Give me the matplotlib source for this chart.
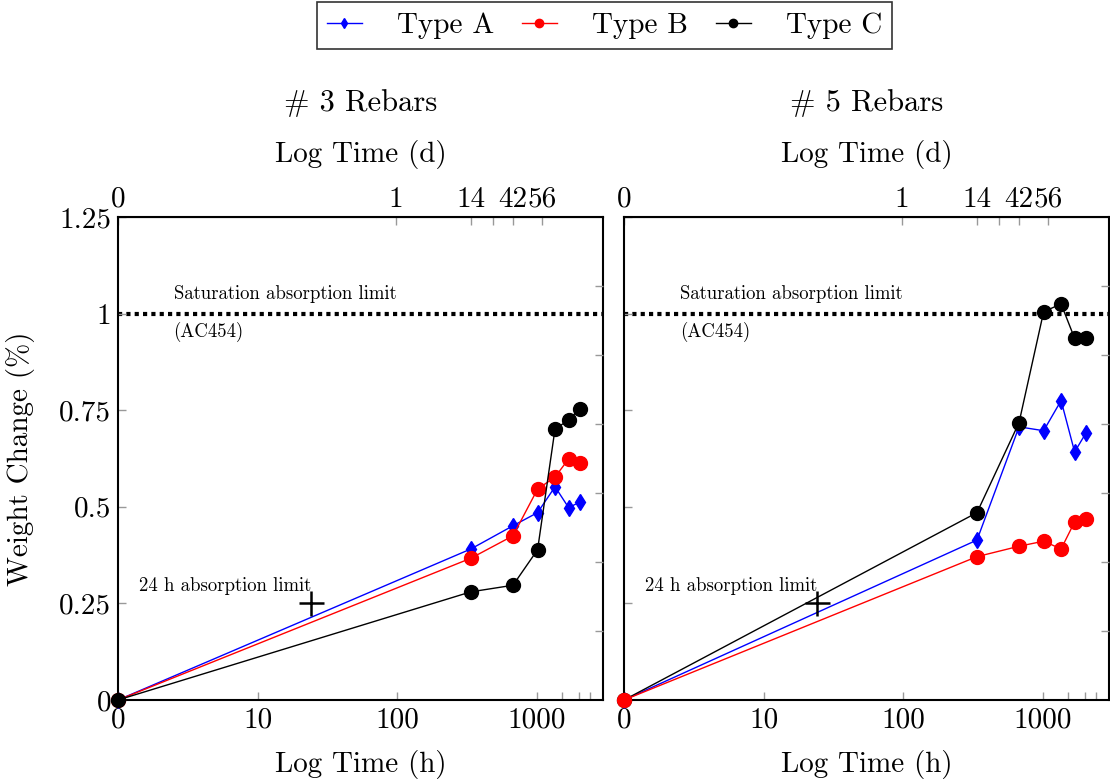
import numpy as np
import matplotlib
matplotlib.use("Agg")
import matplotlib.pyplot as plt

plt.rcParams['font.family'] = ['cmr10', 'DejaVu Serif']
plt.rcParams['mathtext.fontset'] = 'cm'
plt.rcParams['axes.unicode_minus'] = False

# time in hours (first point plotted at 1 h, shown as "0")
hours = [1, 336, 672, 1008, 1344, 1680, 2016]

rebar3_a = [0, 0.391, 0.451, 0.485, 0.552, 0.498, 0.512]
rebar3_b = [0, 0.367, 0.425, 0.546, 0.577, 0.624, 0.614]
rebar3_c = [0, 0.280, 0.297, 0.389, 0.702, 0.724, 0.754]

rebar5_a = [0, 0.414, 0.707, 0.697, 0.775, 0.642, 0.690]
rebar5_b = [0, 0.371, 0.398, 0.411, 0.391, 0.461, 0.468]
rebar5_c = [0, 0.485, 0.718, 1.005, 1.025, 0.936, 0.936]

panel_titles = ['# 3 Rebars', '# 5 Rebars']

x_ticks_h = [1, 10, 100, 1000]
x_ticklabels_h = ['0', '10', '100', '1000']
x_minor_h = [1500, 2000, 2400]

x_ticks_d = [1, 98, 336, 480, 672, 1090]
x_ticklabels_d = ['0', '1', '14', '', '42', '56']

y_ticks = [0, 0.25, 0.5, 0.75, 1.0, 1.25]
y_ticklabels = ['0', '0.25', '0.5', '0.75', '1', '1.25']

sat_limit = 1.0
h24 = 24
h24_limit = 0.25

fig = plt.figure(figsize=(11.1, 7.81), dpi=100)
ax1 = fig.add_axes([0.1063, 0.1037, 0.4369, 0.6184])
ax2 = fig.add_axes([0.5622, 0.1037, 0.4369, 0.6184])

fs = 21
small = 13.5
tick_col = '#999999'

panels = [
    (ax1, rebar3_a, rebar3_b, rebar3_c, [2, 3, 4]),
    (ax2, rebar5_a, rebar5_b, rebar5_c, [2, 4, 3]),
]

for i, (ax, a, b, c, zs) in enumerate(panels):
    ax.plot(hours, a, color='blue', lw=1, marker='d', ms=8, label='Type A', zorder=zs[0], clip_on=False)
    ax.plot(hours, b, color='red', lw=1, marker='o', ms=10, label='Type B', zorder=zs[1], clip_on=False)
    ax.plot(hours, c, color='black', lw=1, marker='o', ms=10, label='Type C', zorder=zs[2], clip_on=False)

    ax.axhline(sat_limit, color='black', lw=3, linestyle=(0, (1, 1)), zorder=1)
    ax.text(2.5, 1.028, 'Saturation absorption limit', fontsize=small, ha='left', va='bottom')
    ax.text(2.5, 0.978, '(AC454)', fontsize=small, ha='left', va='top')

    ax.plot([h24], [h24_limit], marker='+', ms=18, mew=1.8, color='black', zorder=6)
    ax.text(h24 * 1.0, 0.272, '24 h absorption limit', fontsize=small, ha='right', va='bottom')

    ax.set_xscale('log')
    ax.set_xlim(1, 2960)
    ax.set_ylim(0, 1.25)
    ax.set_xticks(x_ticks_h)
    ax.set_xticklabels(x_ticklabels_h, fontsize=fs)
    ax.set_xticks(x_minor_h, minor=True)
    ax.set_xticklabels([], minor=True)
    ax.set_yticks(y_ticks)
    if i == 0:
        ax.set_yticklabels(y_ticklabels, fontsize=fs)
        ax.set_ylabel('Weight Change (%)', fontsize=fs, labelpad=17)
    else:
        ax.set_yticklabels([])
    ax.tick_params(which='both', direction='in', length=6, color=tick_col, width=1,
                   top=False, right=False, pad=5)
    ax.set_xlabel('Log Time (h)', fontsize=fs, labelpad=12)
    for s in ax.spines.values():
        s.set_linewidth(1.5)

    top = ax.secondary_xaxis('top', functions=(lambda x: x, lambda x: x))
    top.set_xticks(x_ticks_d)
    top.set_xticklabels(x_ticklabels_d, fontsize=fs)
    top.xaxis.set_minor_locator(matplotlib.ticker.NullLocator())
    top.tick_params(direction='in', length=6, color=tick_col, width=1, pad=3)
    top.set_xlabel('Log Time (d)', fontsize=fs, labelpad=18)
    ax.set_title(panel_titles[i], fontsize=fs + 1, pad=76)

    twin = ax.twinx()
    twin.set_ylim(0, 7)
    twin.set_yticks(range(1, 7))
    twin.set_yticklabels([])
    twin.tick_params(direction='in', length=6, color=tick_col, width=1)
    for s in twin.spines.values():
        s.set_visible(False)

handles, labels = ax1.get_legend_handles_labels()
leg = fig.legend(handles, labels, loc='upper center', ncol=3, bbox_to_anchor=(0.5445, 0.997),
                 fontsize=fs, frameon=True, fancybox=False, edgecolor='black',
                 markerscale=0.6, handlelength=1.2, handletextpad=1.2, columnspacing=0.95,
                 borderpad=0.35, borderaxespad=0.0)
leg.get_frame().set_linewidth(1.2)

fig.savefig('out.png', dpi=100)
